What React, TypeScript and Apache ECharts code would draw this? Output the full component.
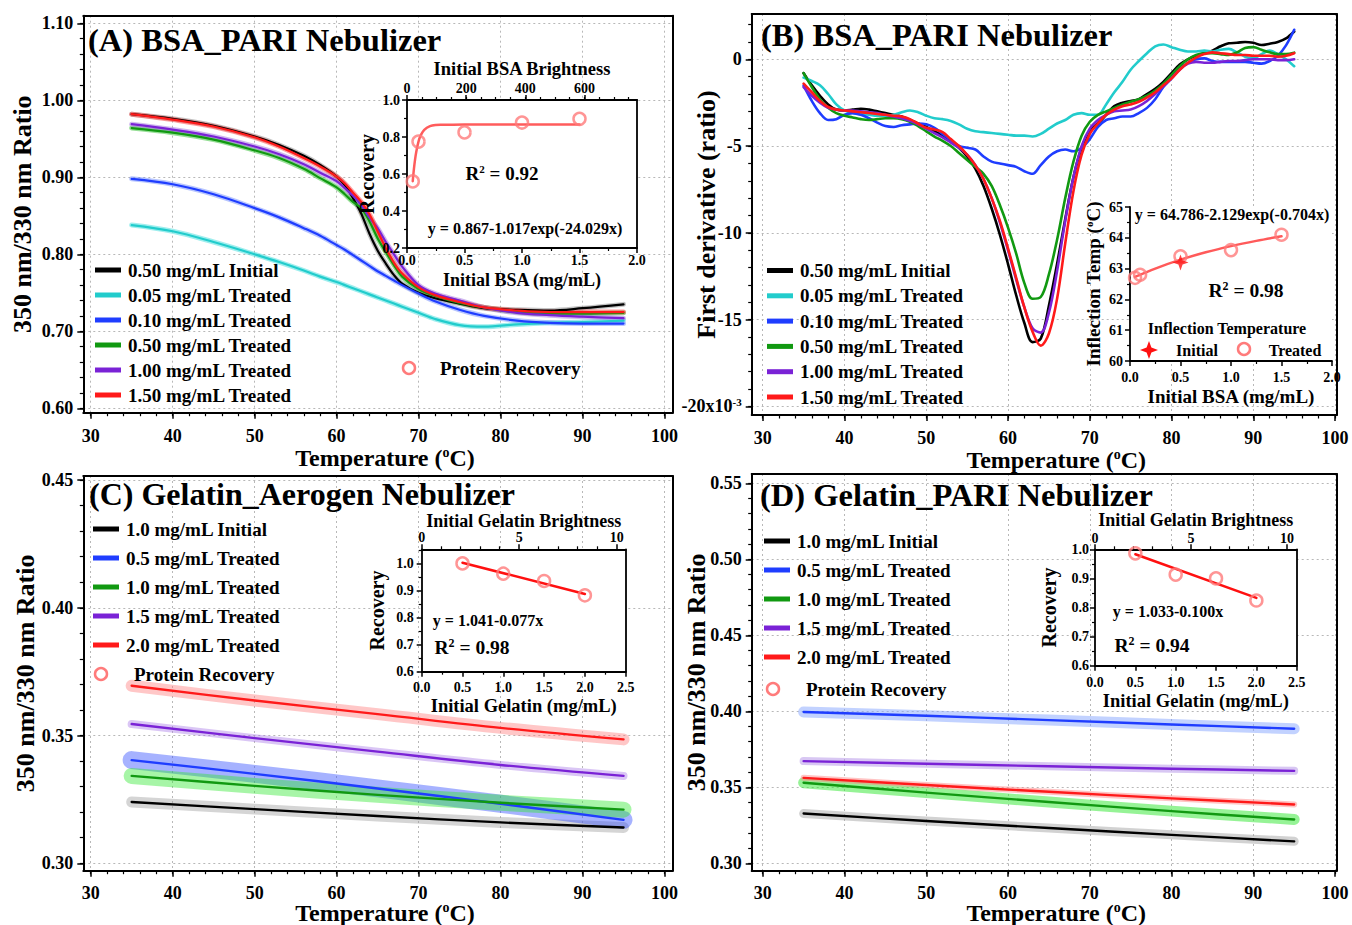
import React, { useEffect, useRef } from "react";
import * as echarts from "echarts";

const FONT = "'Liberation Serif', 'Times New Roman', Times, serif";

// ---------------- Panel A: BSA_PARI ratio ----------------
const tempA = [35, 40, 45, 50, 53, 56, 58, 60, 61, 62, 63, 64, 65, 66, 67, 68, 70, 72, 75, 78, 82, 86, 90, 95];
const A_init050 = [0.982, 0.976, 0.967, 0.953, 0.942, 0.928, 0.916, 0.901, 0.890, 0.873, 0.853, 0.827, 0.805, 0.788, 0.773, 0.762, 0.750, 0.743, 0.736, 0.730, 0.728, 0.727, 0.730, 0.735];
const A_tr005 = [0.838, 0.830, 0.816, 0.800, 0.790, 0.779, 0.771, 0.764, 0.760, 0.756, 0.752, 0.748, 0.744, 0.740, 0.736, 0.732, 0.724, 0.716, 0.708, 0.706, 0.709, 0.711, 0.712, 0.714];
const A_tr010 = [0.898, 0.891, 0.878, 0.860, 0.848, 0.834, 0.824, 0.812, 0.806, 0.799, 0.792, 0.785, 0.778, 0.772, 0.766, 0.760, 0.749, 0.739, 0.728, 0.720, 0.714, 0.711, 0.710, 0.710];
const A_tr050 = [0.964, 0.958, 0.949, 0.935, 0.925, 0.911, 0.899, 0.887, 0.878, 0.868, 0.860, 0.843, 0.821, 0.803, 0.786, 0.771, 0.755, 0.746, 0.737, 0.731, 0.725, 0.723, 0.723, 0.724];
const A_tr100 = [0.969, 0.962, 0.953, 0.940, 0.930, 0.917, 0.906, 0.895, 0.886, 0.876, 0.864, 0.848, 0.834, 0.816, 0.800, 0.784, 0.760, 0.749, 0.740, 0.731, 0.724, 0.721, 0.719, 0.717];
const A_tr150 = [0.982, 0.975, 0.966, 0.952, 0.940, 0.925, 0.914, 0.901, 0.892, 0.880, 0.868, 0.852, 0.830, 0.808, 0.789, 0.775, 0.757, 0.747, 0.738, 0.731, 0.727, 0.725, 0.725, 0.725];

// inset A
const insA_conc = [0.05, 0.1, 0.5, 1.0, 1.5];
const insA_rec = [0.56, 0.775, 0.825, 0.878, 0.898];
const insA_fitX = [0.05, 0.06, 0.07, 0.08, 0.1, 0.12, 0.15, 0.2, 0.25, 0.3, 0.5, 1.0, 1.5];
const insA_fitY = [0.561, 0.626, 0.678, 0.718, 0.775, 0.810, 0.839, 0.859, 0.865, 0.866, 0.867, 0.867, 0.867];

// ---------------- Panel B: first derivative (x10^-3) ----------------
const tempB = [
  35, 36, 37, 38, 39, 40, 41, 42, 43, 44,
  45, 46, 47, 48, 49, 50, 51, 52, 53, 54,
  55, 56, 57, 58, 59, 60, 61, 62, 63, 64,
  65, 66, 67, 68, 69, 70, 71, 72, 73, 74,
  75, 76, 77, 78, 79, 80, 81, 82, 83, 84,
  85, 86, 87, 88, 89, 90, 91, 92, 93, 94,
  95,
];
const B_init050 = [
  -0.8, -1.5, -2.1, -2.6, -2.9, -2.95, -2.9, -2.85, -2.9, -3.0,
  -3.1, -3.2, -3.3, -3.5, -3.7, -3.9, -4.15, -4.4, -4.7, -5.1,
  -5.6, -6.3, -7.3, -8.6, -10.1, -11.8, -13.6, -15.2, -16.3, -16.1,
  -14.2, -11.8, -9.2, -6.8, -5.1, -4.1, -3.7, -3.2, -2.7, -2.5,
  -2.4, -2.3, -2.0, -1.7, -1.3, -0.8, -0.3, 0.0, 0.2, 0.35,
  0.5, 0.75, 0.92, 0.95, 1.0, 0.95, 0.82, 0.9, 1.0, 1.2,
  1.6,
];
const B_tr005 = [
  -1.05, -1.25, -1.5, -2.0, -2.6, -2.95, -3.1, -3.15, -3.2, -3.25,
  -3.25, -3.2, -3.05, -2.95, -3.05, -3.25, -3.4, -3.45, -3.55, -3.75,
  -4.0, -4.15, -4.2, -4.25, -4.3, -4.35, -4.4, -4.4, -4.45, -4.3,
  -4.0, -3.7, -3.5, -3.2, -3.1, -3.2, -3.2, -2.6, -1.9, -1.3,
  -0.6, -0.1, 0.35, 0.75, 0.85, 0.7, 0.55, 0.45, 0.45, 0.5,
  0.45, 0.55, 0.6, 0.4, 0.15, 0.05, 0.3, 0.5, 0.3, 0.0,
  -0.4,
];
const B_tr010 = [
  -1.5, -2.4, -3.1, -3.5, -3.45, -3.2, -3.1, -3.2, -3.4, -3.65,
  -3.85, -3.9, -3.8, -3.75, -3.7, -3.75, -3.95, -4.3, -4.65, -5.0,
  -5.1, -5.2, -5.6, -5.9, -6.0, -6.1, -6.2, -6.45, -6.6, -6.1,
  -5.6, -5.3, -5.2, -5.3, -5.1, -4.6, -3.9, -3.5, -3.4, -3.3,
  -3.3, -3.1, -2.8, -2.3, -1.6, -1.1, -0.55, -0.2, 0.0, 0.05,
  -0.1, -0.15, -0.15, -0.15, -0.15, -0.2, -0.25, -0.1, 0.2, 0.8,
  1.7,
];
const B_tr050 = [
  -0.8, -1.6, -2.3, -2.8, -3.1, -3.25, -3.35, -3.45, -3.5, -3.45,
  -3.4, -3.4, -3.45, -3.6, -3.85, -4.15, -4.45, -4.7, -5.0, -5.4,
  -5.8, -6.2, -6.6, -7.3, -8.4, -9.7, -11.2, -12.9, -13.8, -13.7,
  -12.4, -10.4, -8.0, -5.9, -4.4, -3.6, -3.2, -3.0, -2.8, -2.6,
  -2.45, -2.3, -2.1, -1.8, -1.4, -0.9, -0.4, 0.0, 0.25, 0.35,
  0.35, 0.3, 0.25, 0.4, 0.65, 0.7, 0.55, 0.4, 0.3, 0.3,
  0.38,
];
const B_tr100 = [
  -1.6, -2.1, -2.5, -2.8, -2.9, -2.95, -2.95, -3.0, -3.05, -3.1,
  -3.2, -3.3, -3.4, -3.55, -3.75, -4.0, -4.25, -4.5, -4.8, -5.1,
  -5.5, -6.1, -6.9, -8.0, -9.4, -11.0, -12.7, -14.3, -15.5, -15.75,
  -14.6, -12.2, -9.3, -6.8, -5.0, -4.0, -3.5, -3.2, -3.0, -2.95,
  -2.9, -2.7, -2.4, -2.0, -1.55, -1.1, -0.6, -0.25, -0.15, -0.2,
  -0.2, -0.15, -0.1, -0.1, -0.05, 0.0, 0.0, 0.0, -0.05, -0.05,
  0.0,
];
const B_tr150 = [
  -1.4, -1.9, -2.4, -2.75, -2.9, -2.95, -3.0, -3.05, -3.1, -3.15,
  -3.2, -3.25, -3.3, -3.45, -3.7, -3.95, -4.05, -4.2, -4.6, -5.0,
  -5.5, -6.1, -6.9, -8.0, -9.3, -10.9, -12.6, -14.3, -15.7, -16.5,
  -15.8, -13.8, -10.6, -7.6, -5.5, -4.3, -3.7, -3.2, -2.9, -2.7,
  -2.6, -2.45, -2.2, -1.9, -1.5, -1.1, -0.6, -0.2, 0.1, 0.3,
  0.4, 0.35, 0.3, 0.25, 0.25, 0.2, 0.2, 0.2, 0.15, 0.2,
  0.35,
];

// inset B
const insB_treatedConc = [0.05, 0.1, 0.5, 1.0, 1.5];
const insB_treatedT = [62.7, 62.8, 63.4, 63.6, 64.1];
const insB_initialConc = [0.5];
const insB_initialT = [63.2];
const insB_fitX = [0.05, 0.25, 0.5, 0.75, 1.0, 1.25, 1.5];
const insB_fitY = [62.73, 63.0, 63.29, 63.53, 63.73, 63.9, 64.05];

// ---------------- Panels C & D: gelatin ----------------
const tempCD = [35, 50, 65, 80, 95];
const C_init10 = [0.324, 0.3212, 0.3185, 0.316, 0.314];
const C_tr05 = [0.3404, 0.335, 0.3293, 0.3233, 0.317];
const C_tr10 = [0.3342, 0.3303, 0.3268, 0.3237, 0.321];
const C_tr15 = [0.3545, 0.349, 0.3437, 0.3385, 0.3342];
const C_tr20 = [0.3695, 0.3637, 0.3584, 0.353, 0.3485];

const D_init10 = [0.3327, 0.3278, 0.3232, 0.3187, 0.3144];
const D_tr05 = [0.3995, 0.397, 0.3942, 0.3913, 0.3885];
const D_tr10 = [0.353, 0.3465, 0.3403, 0.3343, 0.3288];
const D_tr15 = [0.3672, 0.3655, 0.3638, 0.3622, 0.3608];
const D_tr20 = [0.3562, 0.3515, 0.347, 0.3427, 0.3387];

const insGel_conc = [0.5, 1.0, 1.5, 2.0];
const insC_rec = [1.0, 0.962, 0.935, 0.882];
const insC_fitX = [0.5, 2.0];
const insC_fitY = [1.0025, 0.887];
const insD_rec = [0.986, 0.913, 0.9, 0.824];
const insD_fitX = [0.5, 2.0];
const insD_fitY = [0.983, 0.833];

// ---------------- tick values ----------------
const ticksTemp = [30, 40, 50, 60, 70, 80, 90, 100];
const ticksA_y = [0.6, 0.7, 0.8, 0.9, 1.0, 1.1];
const ticksB_y = [-20, -15, -10, -5, 0];
const ticksC_y = [0.3, 0.35, 0.4, 0.45];
const ticksD_y = [0.3, 0.35, 0.4, 0.45, 0.5, 0.55];
const ticksConcBSA = [0, 0.5, 1.0, 1.5, 2.0];
const ticksConcGel = [0, 0.5, 1.0, 1.5, 2.0, 2.5];
const ticksBrightBSA = [0, 200, 400, 600];
const ticksBrightGel = [0, 5, 10];
const ticksRecA = [0.2, 0.4, 0.6, 0.8, 1.0];
const ticksRecGel = [0.6, 0.7, 0.8, 0.9, 1.0];
const ticksInfl = [60, 61, 62, 63, 64, 65];

const legendBSA = ["0.50 mg/mL Initial", "0.05 mg/mL Treated", "0.10 mg/mL Treated", "0.50 mg/mL Treated", "1.00 mg/mL Treated", "1.50 mg/mL Treated"];
const legendGel = ["1.0 mg/mL Initial", "0.5 mg/mL Treated", "1.0 mg/mL Treated", "1.5 mg/mL Treated", "2.0 mg/mL Treated"];

function steps(a: number, b: number, s: number): number[] {
  const out: number[] = [];
  const n = Math.round((b - a) / s);
  for (let i = 0; i <= n; i++) out.push(Math.round((a + i * s) * 1e6) / 1e6);
  return out;
}

function buildOption() {
  const xAxes: any[] = [];
  const yAxes: any[] = [];
  const series: any[] = [];
  const g: any[] = [];

  const nameRich = (size: number) => ({
    s: { fontSize: Math.round(size * 0.6), fontWeight: "bold", fontFamily: FONT, color: "#000", padding: [0, 0, Math.round(size * 0.45), 0] },
  });

  function addAxis(c: any): number {
    const arr = c.dim === "x" ? xAxes : yAxes;
    const z = c.z ?? 0;
    const base = {
      type: "value", gridIndex: c.grid, min: c.min, max: c.max, position: c.pos, z,
      minorTick: { show: false }, minorSplitLine: { show: false }, nameMoveOverlap: false,
    };
    const idx = arr.length;
    const nameSize = c.nameSize ?? 24;
    arr.push({
      ...base,
      axisLine: { show: c.line !== false, onZero: false, lineStyle: { color: "#000", width: c.lineWidth ?? 2 } },
      axisTick: c.majors
        ? { show: true, inside: false, length: c.majorLen ?? 6, customValues: c.majors, lineStyle: { color: "#000", width: 1.5 } }
        : { show: false },
      axisLabel: c.labels && c.majors
        ? { show: true, customValues: c.majors, formatter: c.fmt, margin: c.margin ?? 8, fontSize: c.fontSize ?? 18, fontWeight: "bold", fontFamily: FONT, color: "#000", rich: c.rich }
        : { show: false },
      splitLine: c.split && c.majors ? { show: true, lineStyle: { color: "#b8b8b8", type: [2, 3], width: 1 } } : { show: false },
      name: c.name ?? "",
      nameLocation: "middle",
      nameGap: c.nameGap ?? 30,
      nameTextStyle: { fontSize: nameSize, fontWeight: "bold", fontFamily: FONT, color: "#000", padding: c.namePad ?? 0, rich: nameRich(nameSize) },
    });
    if (c.minors) {
      arr.push({
        ...base,
        axisLine: { show: false, onZero: false },
        axisTick: { show: true, inside: false, length: c.minorLen ?? 3.5, customValues: c.minors, lineStyle: { color: "#000", width: 1.2 } },
        axisLabel: { show: false },
        splitLine: { show: false },
      });
    }
    return idx;
  }

  function line(name: string, xs: number[], ys: number[], xi: number, yi: number, color: string, width: number, extra: any = {}) {
    series.push({
      type: "line", name, xAxisIndex: xi, yAxisIndex: yi,
      data: xs.map((x, i) => [x, ys[i]]),
      symbol: "none", showSymbol: false, smooth: 0.35, silent: true,
      lineStyle: { color, width, cap: "round", join: "round", ...(extra.lineStyle || {}) },
      itemStyle: { color }, emphasis: { disabled: true },
      z: extra.z ?? 2,
    });
  }

  function scatter(name: string, xs: number[], ys: number[], xi: number, yi: number, extra: any = {}) {
    series.push({
      type: "scatter", name, xAxisIndex: xi, yAxisIndex: yi,
      data: xs.map((x, i) => [x, ys[i]]),
      symbol: extra.symbol ?? "circle", symbolSize: extra.size ?? 12, silent: true,
      itemStyle: extra.itemStyle ?? { color: "rgba(255,255,255,0)", borderColor: "#ff7b7b", borderWidth: 2.5 },
      emphasis: { disabled: true }, z: 6,
    });
  }

  function txt(x: number, y: number, text: string, size: number, align = "left") {
    g.push({
      type: "text", x, y, z: 10, silent: true,
      style: {
        text, fontSize: size, fontWeight: "bold", fontFamily: FONT, fill: "#000", align, verticalAlign: "middle",
        rich: { s: { fontSize: Math.round(size * 0.6), fontWeight: "bold", fontFamily: FONT, fill: "#000", padding: [0, 0, Math.round(size * 0.45), 0] } },
      },
    });
  }
  function legLine(x1: number, x2: number, y: number, color: string) {
    g.push({ type: "line", z: 10, silent: true, shape: { x1, y1: y, x2, y2: y }, style: { stroke: color, lineWidth: 5 } });
  }
  function legCircle(cx: number, cy: number) {
    g.push({ type: "circle", z: 10, silent: true, shape: { cx, cy, r: 6 }, style: { fill: "none", stroke: "#ff7b7b", lineWidth: 2.5 } });
  }

  const BLACK = "#000000", CYAN = "#22cccc", BLUE = "#1f3dff", GREEN = "#119911", PURPLE = "#7a22d6", RED = "#ff1a1a";
  const colorsBSA = [BLACK, CYAN, BLUE, GREEN, PURPLE, RED];
  const colorsGel = [BLACK, BLUE, GREEN, PURPLE, RED];

  const minorTemp = steps(30, 100, 2);
  const fmtInt = (v: number) => String(v);
  const fmt1 = (v: number) => v.toFixed(1);
  const fmt2 = (v: number) => v.toFixed(2);
  const tempName = "Temperature ({s|o}C)";
  const ratioName = "350 nm/330 nm Ratio";

  // ========== Panel A (grid 0) ==========
  const aX = addAxis({ dim: "x", grid: 0, min: 29.1, max: 101.0, pos: "bottom", majors: ticksTemp, minors: minorTemp, labels: true, fmt: fmtInt, margin: 14, split: true, name: tempName, nameGap: 33, namePad: [0, 0, 0, 14] });
  addAxis({ dim: "x", grid: 0, min: 29.1, max: 101.0, pos: "top" });
  const aY = addAxis({ dim: "y", grid: 0, min: 0.5943, max: 1.1099, pos: "left", majors: ticksA_y, minors: steps(0.6, 1.1, 0.02), labels: true, fmt: fmt2, margin: 10, split: true, name: ratioName, nameGap: 48, nameSize: 26 });
  addAxis({ dim: "y", grid: 0, min: 0.5943, max: 1.1099, pos: "right" });

  // ========== Panel B (grid 1) ==========
  const bX = addAxis({ dim: "x", grid: 1, min: 28.65, max: 100.2, pos: "bottom", majors: ticksTemp, minors: minorTemp, labels: true, fmt: fmtInt, margin: 14, split: true, name: tempName, nameGap: 32, namePad: [0, 0, 0, 24] });
  addAxis({ dim: "x", grid: 1, min: 28.65, max: 100.2, pos: "top" });
  const bY = addAxis({
    dim: "y", grid: 1, min: -20.5, max: 2.61, pos: "left", majors: ticksB_y, minors: steps(-20, 2, 1), labels: true,
    fmt: (v: number) => (v === -20 ? "{a|-20x10}{s|-3}" : String(v)), margin: 10, split: true,
    name: "First derivative (ratio)", nameGap: 32, nameSize: 26,
    rich: {
      a: { fontSize: 18, fontWeight: "bold", fontFamily: FONT, color: "#000" },
      s: { fontSize: 11, fontWeight: "bold", fontFamily: FONT, color: "#000", padding: [0, 0, 9, 0] },
    },
  });
  addAxis({ dim: "y", grid: 1, min: -20.5, max: 2.61, pos: "right" });

  // ========== Panel C (grid 2) ==========
  const cX = addAxis({ dim: "x", grid: 2, min: 29.1, max: 101.0, pos: "bottom", majors: ticksTemp, minors: minorTemp, labels: true, fmt: fmtInt, margin: 13, split: true, name: tempName, nameGap: 30, namePad: [0, 0, 0, 14] });
  addAxis({ dim: "x", grid: 2, min: 29.1, max: 101.0, pos: "top" });
  const cY = addAxis({ dim: "y", grid: 2, min: 0.2971, max: 0.4516, pos: "left", majors: ticksC_y, minors: steps(0.3, 0.45, 0.01), labels: true, fmt: fmt2, margin: 10, split: true, name: ratioName, nameGap: 45, nameSize: 26 });
  addAxis({ dim: "y", grid: 2, min: 0.2971, max: 0.4516, pos: "right" });

  // ========== Panel D (grid 3) ==========
  const dX = addAxis({ dim: "x", grid: 3, min: 28.65, max: 100.2, pos: "bottom", majors: ticksTemp, minors: minorTemp, labels: true, fmt: fmtInt, margin: 13, split: true, name: tempName, nameGap: 30, namePad: [0, 0, 0, 24] });
  addAxis({ dim: "x", grid: 3, min: 28.65, max: 100.2, pos: "top" });
  const dY = addAxis({ dim: "y", grid: 3, min: 0.2951, max: 0.5561, pos: "left", majors: ticksD_y, minors: steps(0.3, 0.55, 0.01), labels: true, fmt: fmt2, margin: 10, split: true, name: ratioName, nameGap: 42, nameSize: 26 });
  addAxis({ dim: "y", grid: 3, min: 0.2951, max: 0.5561, pos: "right" });

  // ========== Inset A (grid 4) ==========
  const iaX = addAxis({ dim: "x", grid: 4, min: 0, max: 2, pos: "bottom", majors: ticksConcBSA, minors: [0.25, 0.75, 1.25, 1.75], labels: true, fmt: fmt1, fontSize: 14, margin: 5, name: "Initial BSA (mg/mL)", nameGap: 23, nameSize: 18, majorLen: 5, minorLen: 3, z: 3, lineWidth: 1.8 });
  addAxis({ dim: "x", grid: 4, min: 0, max: 778, pos: "top", majors: ticksBrightBSA, minors: steps(50, 750, 50), labels: true, fmt: fmtInt, fontSize: 14, margin: 5, name: "Initial BSA Brightness", nameGap: 22, nameSize: 18.5, majorLen: 5, minorLen: 3, z: 3, lineWidth: 1.8 });
  const iaY = addAxis({ dim: "y", grid: 4, min: 0.2, max: 1.0, pos: "left", majors: ticksRecA, minors: [0.3, 0.5, 0.7, 0.9], labels: true, fmt: fmt1, fontSize: 14, margin: 7, name: "Recovery", nameGap: 30, nameSize: 20, majorLen: 5, minorLen: 3, z: 3, lineWidth: 1.8 });
  addAxis({ dim: "y", grid: 4, min: 0.2, max: 1.0, pos: "right", z: 3, lineWidth: 1.8 });

  // ========== Inset B (grid 5) ==========
  const ibX = addAxis({ dim: "x", grid: 5, min: 0, max: 2, pos: "bottom", majors: ticksConcBSA, minors: [0.25, 0.75, 1.25, 1.75], labels: true, fmt: fmt1, fontSize: 14, margin: 9, name: "Initial BSA (mg/mL)", nameGap: 26, nameSize: 19, majorLen: 5, minorLen: 3, z: 3, lineWidth: 1.8 });
  const ibY = addAxis({ dim: "y", grid: 5, min: 60, max: 65, pos: "left", majors: ticksInfl, minors: [60.5, 61.5, 62.5, 63.5, 64.5], labels: true, fmt: fmtInt, fontSize: 14, margin: 7, name: "Inflection Temp ({s|o}C)", nameGap: 27, nameSize: 19, majorLen: 5, minorLen: 3, z: 3, lineWidth: 1.8 });

  // ========== Inset C (grid 6) ==========
  const icX = addAxis({ dim: "x", grid: 6, min: 0, max: 2.5, pos: "bottom", majors: ticksConcGel, minors: [0.25, 0.75, 1.25, 1.75, 2.25], labels: true, fmt: fmt1, fontSize: 14, margin: 9, name: "Initial Gelatin (mg/mL)", nameGap: 25, nameSize: 18.5, majorLen: 5, minorLen: 3, z: 3, lineWidth: 1.8 });
  addAxis({ dim: "x", grid: 6, min: 0, max: 10.46, pos: "top", majors: ticksBrightGel, minors: [1, 2, 3, 4, 6, 7, 8, 9], labels: true, fmt: fmtInt, fontSize: 14, margin: 5, name: "Initial Gelatin Brightness", nameGap: 19, nameSize: 18, majorLen: 5, minorLen: 3, z: 3, lineWidth: 1.8 });
  const icY = addAxis({ dim: "y", grid: 6, min: 0.6, max: 1.052, pos: "left", majors: ticksRecGel, minors: [0.65, 0.75, 0.85, 0.95, 1.05], labels: true, fmt: fmt1, fontSize: 14, margin: 8, name: "Recovery", nameGap: 35, nameSize: 20, majorLen: 5, minorLen: 3, z: 3, lineWidth: 1.8 });
  addAxis({ dim: "y", grid: 6, min: 0.6, max: 1.052, pos: "right", z: 3, lineWidth: 1.8 });

  // ========== Inset D (grid 7) ==========
  const idX = addAxis({ dim: "x", grid: 7, min: 0, max: 2.5, pos: "bottom", majors: ticksConcGel, minors: [0.25, 0.75, 1.25, 1.75, 2.25], labels: true, fmt: fmt1, fontSize: 14, margin: 10, name: "Initial Gelatin (mg/mL)", nameGap: 26, nameSize: 18.5, majorLen: 5, minorLen: 3, z: 3, lineWidth: 1.8 });
  addAxis({ dim: "x", grid: 7, min: 0, max: 10.5, pos: "top", majors: ticksBrightGel, minors: [1, 2, 3, 4, 6, 7, 8, 9], labels: true, fmt: fmtInt, fontSize: 14, margin: 4, name: "Initial Gelatin Brightness", nameGap: 20, nameSize: 18, majorLen: 5, minorLen: 3, z: 3, lineWidth: 1.8 });
  const idY = addAxis({ dim: "y", grid: 7, min: 0.6, max: 1.0, pos: "left", majors: ticksRecGel, minors: [0.65, 0.75, 0.85, 0.95], labels: true, fmt: fmt1, fontSize: 14, margin: 6, name: "Recovery", nameGap: 36, nameSize: 20, majorLen: 5, minorLen: 3, z: 3, lineWidth: 1.8 });
  addAxis({ dim: "y", grid: 7, min: 0.6, max: 1.0, pos: "right", z: 3, lineWidth: 1.8 });

  // ---------- Series A ----------
  const aSets = [A_init050, A_tr005, A_tr010, A_tr050, A_tr100, A_tr150];
  const aRaw = ["#8a8a8a", "#40dede", "#6f8cff", "#30c030", "#a070e0", "#ff4040"];
  aSets.forEach((ys, i) => line(legendBSA[i] + " raw", tempA, ys, aX, aY, aRaw[i], 5, { lineStyle: { opacity: 0.5 } }));
  aSets.forEach((ys, i) => line(legendBSA[i], tempA, ys, aX, aY, colorsBSA[i], 2.2));

  // ---------- Series B ----------
  const bSets = [B_init050, B_tr005, B_tr010, B_tr050, B_tr100, B_tr150];
  bSets.forEach((ys, i) => line(legendBSA[i], tempB, ys, bX, bY, colorsBSA[i], 2.6));

  // ---------- Series C ----------
  const cSets = [C_init10, C_tr05, C_tr10, C_tr15, C_tr20];
  const cRaw = ["#9a9a9a", "#2a48ff", "#2ee82e", "#a878e8", "#ff7a7a"];
  const cBand = [11, 18, 16, 8, 12];
  cSets.forEach((ys, i) => line(legendGel[i] + " raw", tempCD, ys, cX, cY, cRaw[i], cBand[i], { lineStyle: { opacity: 0.42 } }));
  cSets.forEach((ys, i) => line(legendGel[i], tempCD, ys, cX, cY, colorsGel[i], 2.4));

  // ---------- Series D ----------
  const dSets = [D_init10, D_tr05, D_tr10, D_tr15, D_tr20];
  const dRaw = ["#a5a5a5", "#86a6ff", "#2ee82e", "#b290e8", "#ff8a8a"];
  const dBand = [9, 11, 11, 8, 6];
  dSets.forEach((ys, i) => line(legendGel[i] + " raw", tempCD, ys, dX, dY, dRaw[i], dBand[i], { lineStyle: { opacity: 0.5 } }));
  dSets.forEach((ys, i) => line(legendGel[i], tempCD, ys, dX, dY, colorsGel[i], 2.4));

  // ---------- Inset series ----------
  line("Recovery fit A", insA_fitX, insA_fitY, iaX, iaY, "#ff5c5c", 2.5, { z: 5 });
  scatter("Protein Recovery", insA_conc, insA_rec, iaX, iaY);
  line("Inflection fit", insB_fitX, insB_fitY, ibX, ibY, "#ff5a5a", 2.5, { z: 5 });
  scatter("Treated", insB_treatedConc, insB_treatedT, ibX, ibY);
  scatter("Initial", insB_initialConc, insB_initialT, ibX, ibY, {
    symbol: "path://M0,-10 L2.6,-2.6 L10,0 L2.6,2.6 L0,10 L-2.6,2.6 L-10,0 L-2.6,-2.6 Z", size: 16,
    itemStyle: { color: "#ff1010" },
  });
  line("Recovery fit C", insC_fitX, insC_fitY, icX, icY, "#ff1010", 2.5, { z: 5 });
  scatter("Protein Recovery", insGel_conc, insC_rec, icX, icY);
  line("Recovery fit D", insD_fitX, insD_fitY, idX, idY, "#ff1010", 2.5, { z: 5 });
  scatter("Protein Recovery", insGel_conc, insD_rec, idX, idY);

  // ---------- Titles ----------
  txt(88, 40, "(A) BSA_PARI Nebulizer", 32.5);
  txt(761, 35, "(B) BSA_PARI Nebulizer", 32.5);
  txt(89, 494, "(C) Gelatin_Aerogen Nebulizer", 32);
  txt(760, 495, "(D) Gelatin_PARI Nebulizer", 32.5);

  // ---------- Legends ----------
  legendBSA.forEach((name, i) => { const y = 270 + i * 25; legLine(95, 121, y, colorsBSA[i]); txt(128, y, name, 19); });
  legCircle(409, 368); txt(440, 368, "Protein Recovery", 19);

  legendBSA.forEach((name, i) => { const y = 270.5 + i * 25.3; legLine(767, 793, y, colorsBSA[i]); txt(800, y, name, 19); });

  legendGel.forEach((name, i) => { const y = 529 + i * 29; legLine(93, 119, y, colorsGel[i]); txt(126, y, name, 19); });
  legCircle(101, 674); txt(134, 674, "Protein Recovery", 19);

  legendGel.forEach((name, i) => { const y = 541 + i * 29; legLine(764, 790, y, colorsGel[i]); txt(797, y, name, 19); });
  legCircle(773, 689); txt(806, 689, "Protein Recovery", 19);

  // ---------- Inset annotations ----------
  txt(502, 173, "R{s|2} = 0.92", 19, "center");
  txt(525, 228, "y = 0.867-1.017exp(-24.029x)", 16, "center");

  txt(1232, 214, "y = 64.786-2.129exp(-0.704x)", 16, "center");
  txt(1246, 290, "R{s|2} = 0.98", 19.5, "center");
  txt(1227, 328, "Inflection Temperature", 16, "center");
  g.push({
    type: "polygon", z: 10, silent: true,
    shape: { points: [[1149, 341], [1151.4, 347.6], [1158, 350], [1151.4, 352.4], [1149, 359], [1146.6, 352.4], [1140, 350], [1146.6, 347.6]] },
    style: { fill: "#ff1010" },
  });
  txt(1197, 350, "Initial", 16, "center");
  legCircle(1244, 349);
  txt(1295, 350, "Treated", 16, "center");

  txt(488, 620, "y = 1.041-0.077x", 16, "center");
  txt(472, 647, "R{s|2} = 0.98", 19.5, "center");

  txt(1168, 611, "y = 1.033-0.100x", 16, "center");
  txt(1152, 645, "R{s|2} = 0.94", 19.5, "center");

  const mainGrid = (left: number, top: number, width: number, height: number) => ({ left, top, width, height, containLabel: false, outerBoundsMode: "none", show: false });
  const insetGrid = (left: number, top: number, width: number, height: number) => ({ left, top, width, height, containLabel: false, outerBoundsMode: "none", show: true, backgroundColor: "#ffffff", borderWidth: 0, z: 1 });

  return {
    animation: false,
    backgroundColor: "#ffffff",
    textStyle: { fontFamily: FONT },
    grid: [
      mainGrid(83.3, 15.7, 589.4, 397),
      mainGrid(751.7, 14, 585, 401),
      mainGrid(83.3, 476, 589.4, 394.7),
      mainGrid(751.7, 474, 585, 396.7),
      insetGrid(407, 100, 230, 148),
      insetGrid(1130, 207, 202, 154),
      insetGrid(421.7, 549.3, 204, 122.4),
      insetGrid(1095, 549.3, 201.7, 116.4),
    ],
    xAxis: xAxes,
    yAxis: yAxes,
    series,
    graphic: { elements: g },
  };
}

export default function App() {
  const ref = useRef<HTMLDivElement>(null);
  useEffect(() => {
    if (!ref.current) return;
    const chart = echarts.init(ref.current, null, { renderer: "svg" });
    chart.setOption(buildOption() as any);
    return () => chart.dispose();
  }, []);
  return (
    <div
      ref={ref}
      style={{ position: "absolute", left: 0, top: 0, width: 1352, height: 925, background: "#fff" }}
    />
  );
}
